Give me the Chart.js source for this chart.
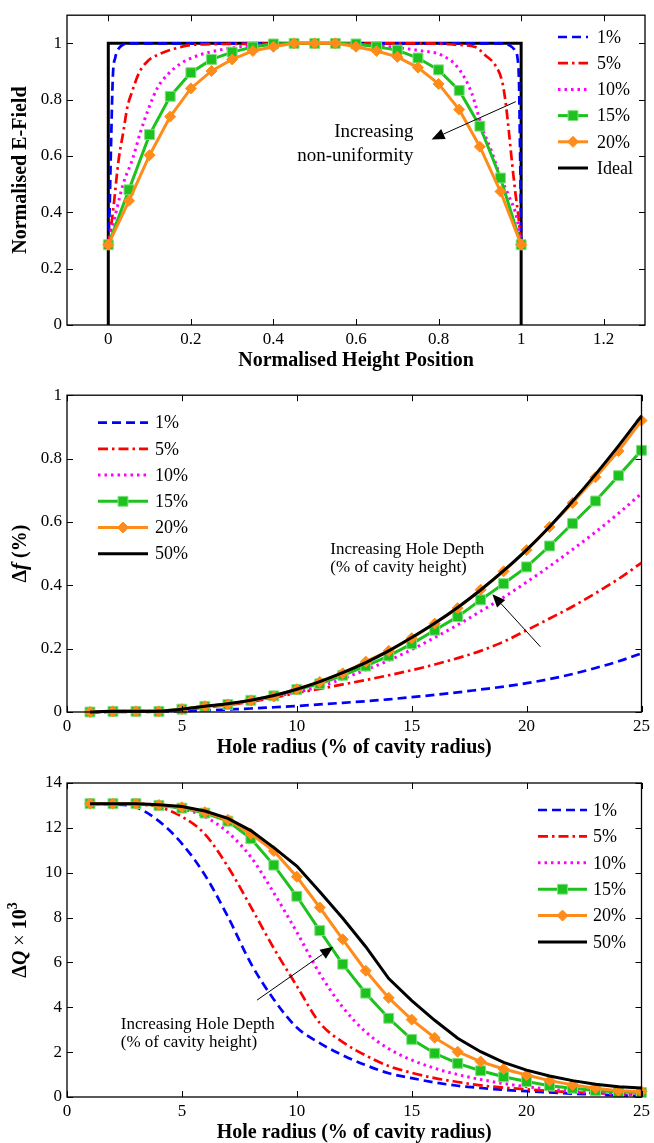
<!DOCTYPE html>
<html>
<head>
<meta charset="utf-8">
<script src="https://cdn.jsdelivr.net/npm/chart.js@4.4.1/dist/chart.umd.min.js"></script>
<style>
  html, body { margin: 0; padding: 0; background: #fff; }
  canvas { display: block; }
</style>
</head>
<body>
<canvas id="c1" width="654" height="380" style="width:654px;height:380px"></canvas>
<canvas id="c2" width="654" height="380" style="width:654px;height:380px"></canvas>
<canvas id="c3" width="654" height="383" style="width:654px;height:383px"></canvas>
<script>
// ---- data: E-field profile ----
const efX = [0, 0.05, 0.1, 0.15, 0.2, 0.25, 0.3, 0.35, 0.4, 0.45, 0.5, 0.55, 0.6, 0.65, 0.7, 0.75, 0.8, 0.85, 0.9, 0.95, 1];
const ef15 = [0.285, 0.48, 0.676, 0.812, 0.896, 0.943, 0.969, 0.987, 0.998, 1, 1, 1, 0.998, 0.988, 0.976, 0.948, 0.906, 0.833, 0.706, 0.522, 0.285];
const ef20 = [0.285, 0.441, 0.603, 0.74, 0.84, 0.902, 0.943, 0.973, 0.988, 1, 1, 1, 0.988, 0.973, 0.952, 0.914, 0.856, 0.765, 0.633, 0.474, 0.285];
const ef1X = [0, 0.003, 0.007, 0.011, 0.017, 0.025, 0.035, 0.05, 0.5, 0.95, 0.972, 0.985, 0.991, 0.995, 0.997, 0.999, 1];
const ef1 = [0.285, 0.4, 0.66, 0.88, 0.95, 0.981, 0.995, 1, 1, 1, 0.993, 0.975, 0.95, 0.85, 0.65, 0.45, 0.285];
const ef5X = [0, 0.005, 0.013, 0.025, 0.037, 0.046, 0.058, 0.074, 0.094, 0.127, 0.16, 0.208, 0.3, 0.5, 0.7, 0.807, 0.84, 0.889, 0.913, 0.937, 0.954, 0.962, 0.97, 0.978, 0.986, 0.994, 1];
const ef5 = [0.285, 0.331, 0.424, 0.586, 0.691, 0.772, 0.83, 0.894, 0.935, 0.964, 0.981, 0.995, 0.998, 1, 1, 0.999, 0.995, 0.987, 0.958, 0.923, 0.865, 0.795, 0.691, 0.575, 0.47, 0.377, 0.285];
const ef10X = [0, 0.017, 0.037, 0.058, 0.078, 0.098, 0.119, 0.143, 0.176, 0.208, 0.249, 0.314, 0.4, 0.5, 0.6, 0.7, 0.75, 0.807, 0.848, 0.88, 0.905, 0.93, 0.949, 0.97, 0.99, 1];
const ef10 = [0.285, 0.39, 0.505, 0.586, 0.685, 0.77, 0.842, 0.888, 0.929, 0.952, 0.97, 0.987, 0.997, 1, 0.997, 0.985, 0.975, 0.958, 0.912, 0.824, 0.703, 0.61, 0.528, 0.459, 0.377, 0.285];
const idealX = [0, 0, 1, 1];
const idealY = [0, 1, 1, 0];
const efXTicks = [0, 0.2, 0.4, 0.6, 0.8, 1, 1.2];
const efYTicks = [0, 0.2, 0.4, 0.6, 0.8, 1];

// ---- data: frequency shift and Q vs hole radius ----
const radius = [1, 2, 3, 4, 5, 6, 7, 8, 9, 10, 11, 12, 13, 14, 15, 16, 17, 18, 19, 20, 21, 22, 23, 24, 25];
const df1 = [0, 0, 0, 0.001, 0.003, 0.005, 0.008, 0.011, 0.015, 0.019, 0.024, 0.029, 0.034, 0.04, 0.047, 0.054, 0.062, 0.071, 0.08, 0.091, 0.104, 0.12, 0.139, 0.16, 0.185];
const df5 = [0, 0.001, 0.002, 0.003, 0.008, 0.014, 0.022, 0.032, 0.045, 0.06, 0.073, 0.087, 0.101, 0.116, 0.132, 0.15, 0.17, 0.193, 0.222, 0.258, 0.295, 0.333, 0.375, 0.42, 0.471];
const df10 = [0, 0.002, 0.002, 0.003, 0.008, 0.016, 0.025, 0.035, 0.048, 0.063, 0.08, 0.105, 0.133, 0.163, 0.197, 0.235, 0.275, 0.318, 0.362, 0.41, 0.46, 0.513, 0.568, 0.627, 0.69];
const df15 = [0, 0.002, 0.002, 0.002, 0.009, 0.018, 0.024, 0.037, 0.051, 0.071, 0.089, 0.116, 0.145, 0.177, 0.215, 0.258, 0.301, 0.354, 0.405, 0.458, 0.524, 0.595, 0.666, 0.746, 0.826];
const df20 = [0, 0.002, 0.002, 0.002, 0.009, 0.018, 0.024, 0.036, 0.049, 0.072, 0.095, 0.122, 0.159, 0.193, 0.233, 0.279, 0.328, 0.386, 0.444, 0.511, 0.584, 0.66, 0.741, 0.824, 0.92];
const df50 = [0, 0.002, 0.002, 0.003, 0.009, 0.018, 0.026, 0.037, 0.052, 0.072, 0.096, 0.124, 0.156, 0.193, 0.235, 0.28, 0.33, 0.385, 0.446, 0.512, 0.585, 0.665, 0.75, 0.84, 0.935];

const dq1 = [13.08, 13.05, 12.92, 12.3, 11.3, 9.9, 8.04, 5.96, 4.35, 3.1, 2.4, 1.86, 1.42, 1.06, 0.84, 0.65, 0.5, 0.4, 0.32, 0.26, 0.2, 0.15, 0.11, 0.07, 0.04];
const dq5 = [13.08, 13.08, 13.05, 12.93, 12.5, 11.72, 10.27, 8.48, 6.63, 4.95, 3.3, 2.45, 1.85, 1.38, 1.08, 0.84, 0.67, 0.52, 0.42, 0.34, 0.27, 0.21, 0.17, 0.13, 0.1];
const dq10 = [13.08, 13.08, 13.07, 13.02, 12.85, 12.5, 11.8, 10.7, 9.1, 7.35, 5.5, 4.0, 2.9, 2.15, 1.65, 1.28, 1.0, 0.78, 0.6, 0.46, 0.35, 0.26, 0.19, 0.13, 0.08];
const dq15 = [13.08, 13.08, 13.08, 13.0, 12.88, 12.66, 12.3, 11.52, 10.34, 8.95, 7.42, 5.92, 4.63, 3.51, 2.57, 1.95, 1.5, 1.17, 0.9, 0.69, 0.5, 0.39, 0.29, 0.22, 0.2];
const dq20 = [13.08, 13.08, 13.08, 13.02, 12.92, 12.7, 12.36, 11.73, 10.97, 9.82, 8.45, 7.03, 5.63, 4.42, 3.45, 2.64, 2.02, 1.58, 1.25, 0.98, 0.73, 0.54, 0.39, 0.28, 0.24];
const dq50 = [13.08, 13.08, 13.08, 13.03, 12.95, 12.75, 12.42, 11.88, 11.12, 10.3, 9.15, 7.97, 6.7, 5.28, 4.3, 3.42, 2.62, 2.02, 1.54, 1.2, 0.94, 0.73, 0.57, 0.46, 0.4];

const radiusTicks = [0, 5, 10, 15, 20, 25];
const dfTicks = [0, 0.2, 0.4, 0.6, 0.8, 1];
const dqTicks = [0, 2, 4, 6, 8, 10, 12, 14];
const depthLabels = ['1%', '5%', '10%', '15%', '20%'];

// ---- styling ----
const serif = "'Liberation Serif', 'Times New Roman', serif";
Chart.defaults.font.family = serif;
Chart.defaults.color = '#000';
Chart.defaults.animation = false;

const st = {
  blue:   { borderColor: '#0000ff', borderDash: [9, 5], borderWidth: 2.7, pointRadius: 0, cubicInterpolationMode: 'monotone' },
  red:    { borderColor: '#ff0000', borderDash: [10, 4, 2.5, 4], borderWidth: 2.7, pointRadius: 0, cubicInterpolationMode: 'monotone' },
  mag:    { borderColor: '#ff00ff', borderDash: [2.5, 4], borderWidth: 3, pointRadius: 0, cubicInterpolationMode: 'monotone' },
  green:  { borderColor: '#1ec21e', borderWidth: 3, tension: 0, pointStyle: 'rect', pointRadius: 7,
            pointBackgroundColor: '#1ec21e', pointBorderColor: '#80e080', pointBorderWidth: 1 },
  orange: { borderColor: '#ff8c1a', borderWidth: 3, tension: 0, pointStyle: 'rectRot', pointRadius: 5.5,
            pointBackgroundColor: '#ff8c1a', pointBorderColor: '#ff8c1a', pointBorderWidth: 1 },
  black:  { borderColor: '#000000', borderWidth: 3, pointRadius: 0, tension: 0 }
};

function pts(xs, ys) { return xs.map((x, i) => ({ x: x, y: ys[i] })); }
function ds(label, xs, ys, style, order, extra) {
  return Object.assign({ label: label, data: pts(xs, ys), fill: false, order: order, clip: false,
    pointHoverRadius: 0 }, style, extra || {});
}
function fmt(v) { return String(+Number(v).toFixed(2)); }

function scales(xmin, xmax, xticks, ymin, ymax, yticks, xh) {
  return {
    x: {
      type: 'linear', min: xmin, max: xmax,
      grid: { display: false, drawTicks: false, tickLength: 0 }, border: { display: false },
      afterBuildTicks: s => { s.ticks = xticks.map(v => ({ value: v })); },
      afterFit: s => { s.height = xh; },
      ticks: { font: { size: 17 }, padding: 4, maxRotation: 0, autoSkip: false, callback: fmt }
    },
    y: {
      type: 'linear', min: ymin, max: ymax,
      grid: { display: false, drawTicks: false, tickLength: 0 }, border: { display: false },
      afterBuildTicks: s => { s.ticks = yticks.map(v => ({ value: v })); },
      afterFit: s => { s.width = 67; },
      ticks: { font: { size: 17 }, padding: 5, autoSkip: false, callback: fmt }
    }
  };
}

// frame with inward ticks on all four sides
const framePlugin = {
  id: 'frame',
  afterDatasetsDraw(chart) {
    const { ctx, chartArea: a, scales: { x, y } } = chart;
    ctx.save();
    ctx.strokeStyle = '#000';
    ctx.lineWidth = 1.3;
    ctx.setLineDash([]);
    ctx.strokeRect(a.left, a.top, a.right - a.left, a.bottom - a.top);
    const tl = 6;
    ctx.beginPath();
    x.ticks.forEach(t => {
      const px = Math.round(x.getPixelForValue(t.value)) + 0.5;
      ctx.moveTo(px, a.bottom); ctx.lineTo(px, a.bottom - tl);
      ctx.moveTo(px, a.top); ctx.lineTo(px, a.top + tl);
    });
    y.ticks.forEach(t => {
      const py = Math.round(y.getPixelForValue(t.value)) + 0.5;
      ctx.moveTo(a.left, py); ctx.lineTo(a.left + tl, py);
      ctx.moveTo(a.right, py); ctx.lineTo(a.right - tl, py);
    });
    ctx.lineWidth = 1;
    ctx.stroke();
    ctx.restore();
  }
};

function drawMarker(ctx, d, cx, cy) {
  const r = d.pointRadius;
  ctx.save();
  ctx.setLineDash([]);
  ctx.fillStyle = d.pointBackgroundColor;
  ctx.strokeStyle = d.pointBorderColor;
  ctx.lineWidth = d.pointBorderWidth || 1;
  ctx.beginPath();
  if (d.pointStyle === 'rect') {
    const h = r * Math.SQRT1_2;
    ctx.rect(cx - h, cy - h, 2 * h, 2 * h);
  } else {
    ctx.moveTo(cx, cy - r); ctx.lineTo(cx + r, cy); ctx.lineTo(cx, cy + r); ctx.lineTo(cx - r, cy); ctx.closePath();
  }
  ctx.fill(); ctx.stroke();
  ctx.restore();
}

// legend drawn inside the plot, in dataset order
const legendPlugin = {
  id: 'boxLegend',
  afterDraw(chart, args, o) {
    if (!o || o.x0 === undefined) return;
    const ctx = chart.ctx;
    chart.data.datasets.forEach((d, i) => {
      const yy = o.y0 + i * o.dy;
      ctx.save();
      ctx.strokeStyle = d.borderColor;
      ctx.lineWidth = d.borderWidth;
      ctx.setLineDash(d.borderDash || []);
      ctx.beginPath(); ctx.moveTo(o.x0, yy); ctx.lineTo(o.x1, yy); ctx.stroke();
      ctx.restore();
      if (d.pointRadius > 0) drawMarker(ctx, d, (o.x0 + o.x1) / 2, yy);
      ctx.save();
      ctx.fillStyle = '#000';
      ctx.font = '18px ' + serif;
      ctx.textBaseline = 'middle';
      ctx.textAlign = 'left';
      ctx.fillText(d.label, o.tx, yy + 1);
      ctx.restore();
    });
  }
};

function drawParts(ctx, parts) {
  let total = 0;
  parts.forEach(p => { ctx.font = p.f; p.w = ctx.measureText(p.t).width; total += p.w; });
  let x = -total / 2;
  parts.forEach(p => { ctx.font = p.f; ctx.fillText(p.t, x, p.dy || 0); x += p.w; });
}

// axis titles and annotation (text + arrow)
const notePlugin = {
  id: 'notes',
  afterDraw(chart, args, o) {
    if (!o || !o.xTitle) return;
    const { ctx, chartArea: a, scales: { x, y } } = chart;
    ctx.save();
    ctx.fillStyle = '#000';
    ctx.textBaseline = 'middle';
    ctx.textAlign = 'center';
    ctx.font = 'bold 20px ' + serif;
    ctx.fillText(o.xTitle, (a.left + a.right) / 2, a.bottom + 36);
    ctx.save();
    ctx.translate(21, (a.top + a.bottom) / 2);
    ctx.rotate(-Math.PI / 2);
    ctx.textAlign = 'left';
    drawParts(ctx, o.yTitle);
    ctx.restore();

    ctx.font = o.noteSize + 'px ' + serif;
    ctx.textAlign = o.noteAlign;
    o.notes.forEach(n => ctx.fillText(n.t, x.getPixelForValue(n.x), y.getPixelForValue(n.y)));

    const x0 = x.getPixelForValue(o.arrow[0]), y0 = y.getPixelForValue(o.arrow[1]);
    const x1 = x.getPixelForValue(o.arrow[2]), y1 = y.getPixelForValue(o.arrow[3]);
    const ang = Math.atan2(y1 - y0, x1 - x0);
    const L = 13, W = 5.5;
    const bx = x1 - L * Math.cos(ang), by = y1 - L * Math.sin(ang);
    ctx.strokeStyle = '#000';
    ctx.lineWidth = 1;
    ctx.beginPath(); ctx.moveTo(x0, y0); ctx.lineTo(bx, by); ctx.stroke();
    ctx.beginPath();
    ctx.moveTo(x1, y1);
    ctx.lineTo(bx + W * Math.sin(ang), by - W * Math.cos(ang));
    ctx.lineTo(bx - W * Math.sin(ang), by + W * Math.cos(ang));
    ctx.closePath(); ctx.fill();
    ctx.restore();
  }
};

const plugins = [framePlugin, legendPlugin, notePlugin];

// ---- chart 1: normalised E-field ----
new Chart(document.getElementById('c1'), {
  type: 'line',
  data: {
    datasets: [
      ds(depthLabels[0], ef1X, ef1, st.blue, 4),
      ds(depthLabels[1], ef5X, ef5, st.red, 3),
      ds(depthLabels[2], ef10X, ef10, st.mag, 2),
      ds(depthLabels[3], efX, ef15, st.green, 1),
      ds(depthLabels[4], efX, ef20, st.orange, 0),
      ds('Ideal', idealX, idealY, st.black, 5)
    ]
  },
  options: {
    responsive: false,
    layout: { padding: { top: 10, right: 9, left: 0, bottom: 0 } },
    scales: scales(-0.1, 1.3, efXTicks, 0, 1.1, efYTicks, 55),
    plugins: {
      legend: { display: false }, tooltip: { enabled: false },
      boxLegend: { x0: 558, x1: 588, tx: 597, y0: 37, dy: 26.2 },
      notes: {
        xTitle: 'Normalised Height Position',
        yTitle: [{ t: 'Normalised E-Field', f: 'bold 20px ' + serif }],
        noteSize: 19, noteAlign: 'right',
        notes: [{ t: 'Increasing', x: 0.739, y: 0.686 }, { t: 'non-uniformity', x: 0.739, y: 0.599 }],
        arrow: [0.987, 0.793, 0.783, 0.659]
      }
    }
  },
  plugins: plugins
});

// ---- chart 2: frequency shift ----
new Chart(document.getElementById('c2'), {
  type: 'line',
  data: {
    datasets: [
      ds(depthLabels[0], radius, df1, st.blue, 5),
      ds(depthLabels[1], radius, df5, st.red, 4),
      ds(depthLabels[2], radius, df10, st.mag, 3),
      ds(depthLabels[3], radius, df15, st.green, 2),
      ds(depthLabels[4], radius, df20, st.orange, 1),
      ds('50%', radius, df50, st.black, 0, { cubicInterpolationMode: 'monotone' })
    ]
  },
  options: {
    responsive: false,
    layout: { padding: { top: 15, right: 9, left: 0, bottom: 0 } },
    scales: scales(0, 25, radiusTicks, 0, 1, dfTicks, 48),
    plugins: {
      legend: { display: false }, tooltip: { enabled: false },
      boxLegend: { x0: 98, x1: 148, tx: 155, y0: 42.7, dy: 26.2 },
      notes: {
        xTitle: 'Hole radius (% of cavity radius)',
        yTitle: [{ t: '\u0394', f: 'bold 20px ' + serif }, { t: 'f', f: 'italic bold 21px ' + serif },
                 { t: ' (%)', f: 'bold 20px ' + serif }],
        noteSize: 17, noteAlign: 'left',
        notes: [{ t: 'Increasing Hole Depth', x: 11.46, y: 0.514 }, { t: '(% of cavity height)', x: 11.46, y: 0.457 }],
        arrow: [20.6, 0.206, 18.51, 0.372]
      }
    }
  },
  plugins: plugins
});

// ---- chart 3: Q change ----
new Chart(document.getElementById('c3'), {
  type: 'line',
  data: {
    datasets: [
      ds(depthLabels[0], radius, dq1, st.blue, 5),
      ds(depthLabels[1], radius, dq5, st.red, 4),
      ds(depthLabels[2], radius, dq10, st.mag, 3),
      ds(depthLabels[3], radius, dq15, st.green, 2),
      ds(depthLabels[4], radius, dq20, st.orange, 1),
      ds('50%', radius, dq50, st.black, 0)
    ]
  },
  options: {
    responsive: false,
    layout: { padding: { top: 23, right: 9, left: 0, bottom: 0 } },
    scales: scales(0, 25, radiusTicks, 0, 14, dqTicks, 46),
    plugins: {
      legend: { display: false }, tooltip: { enabled: false },
      boxLegend: { x0: 538, x1: 587, tx: 593, y0: 50, dy: 26.4 },
      notes: {
        xTitle: 'Hole radius (% of cavity radius)',
        yTitle: [{ t: '\u0394', f: 'bold 20px ' + serif }, { t: 'Q', f: 'italic bold 20px ' + serif },
                 { t: ' \u00d7 ', f: '20px ' + serif }, { t: '10', f: 'bold 20px ' + serif },
                 { t: '3', f: 'bold 14px ' + serif, dy: -8 }],
        noteSize: 17, noteAlign: 'left',
        notes: [{ t: 'Increasing Hole Depth', x: 2.34, y: 3.21 }, { t: '(% of cavity height)', x: 2.34, y: 2.41 }],
        arrow: [8.27, 4.32, 11.59, 6.7]
      }
    }
  },
  plugins: plugins
});
</script>
</body>
</html>
